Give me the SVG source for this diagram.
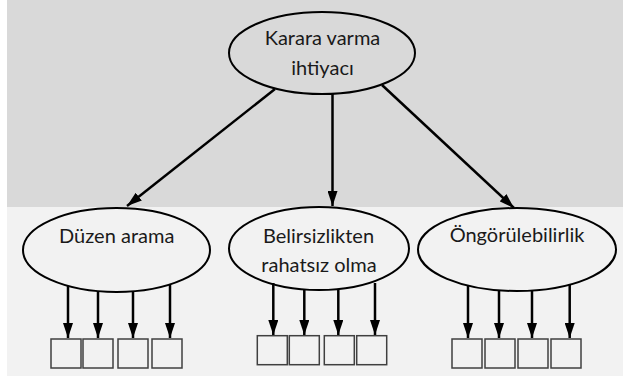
<svg xmlns="http://www.w3.org/2000/svg" width="623" height="376" viewBox="0 0 623 376">
  <style>
    .node { fill: none; stroke: #000; stroke-width: 2; }
    .box { fill: none; stroke: #404040; stroke-width: 1.5; }
    .lbl { font-family: Lato, "Open Sans", "Liberation Sans", sans-serif; font-size: 20px; fill: #1a1a1a; text-anchor: middle; }
    .conn { stroke: #000; stroke-width: 2.5; fill: none; marker-end: url(#ah); }
  </style>
  <defs>
    <marker id="ah" markerUnits="userSpaceOnUse" markerWidth="15" markerHeight="10" refX="15" refY="5" orient="auto">
      <path d="M0,0 L15,5 L0,10 z" fill="#000"/>
    </marker>
  </defs>

  <rect x="0" y="0" width="623" height="376" fill="#ffffff"/>
  <rect x="7" y="0" width="616" height="207" fill="#d9d9d9"/>
  <rect x="7" y="207" width="616" height="169" fill="#f2f2f2"/>

  <g id="connectors">
    <line class="conn" x1="275" y1="89" x2="127" y2="206"/>
    <line class="conn" x1="332.5" y1="94" x2="332.5" y2="206"/>
    <line class="conn" x1="382" y1="85" x2="514" y2="208"/>

    <line class="conn" x1="68" y1="286" x2="68" y2="338"/>
    <line class="conn" x1="98" y1="291" x2="98" y2="338"/>
    <line class="conn" x1="133" y1="291" x2="133" y2="338"/>
    <line class="conn" x1="170" y1="284.5" x2="170" y2="338"/>

    <line class="conn" x1="273.3" y1="283" x2="273.3" y2="335"/>
    <line class="conn" x1="304.3" y1="289" x2="304.3" y2="335"/>
    <line class="conn" x1="338.3" y1="289.5" x2="338.3" y2="335"/>
    <line class="conn" x1="375" y1="283" x2="375" y2="335"/>

    <line class="conn" x1="468" y1="285" x2="468" y2="338"/>
    <line class="conn" x1="499" y1="290.5" x2="499" y2="338"/>
    <line class="conn" x1="532" y1="290.5" x2="532" y2="338"/>
    <line class="conn" x1="569.7" y1="284" x2="569.7" y2="338"/>
  </g>

  <g id="node-karara">
    <ellipse class="node" cx="322" cy="53" rx="93" ry="41"/>
    <text class="lbl" x="322.5" y="45">Karara varma</text>
    <text class="lbl" x="322.5" y="75">ihtiyacı</text>
  </g>

  <g id="node-duzen">
    <ellipse class="node" cx="116.5" cy="250" rx="93.5" ry="42"/>
    <text class="lbl" x="116.7" y="242.7">Düzen arama</text>
  </g>

  <g id="node-belirsizlik">
    <ellipse class="node" cx="319" cy="248.5" rx="90" ry="41.5"/>
    <text class="lbl" x="318.5" y="242.7">Belirsizlikten</text>
    <text class="lbl" x="319" y="271.7">rahatsız olma</text>
  </g>

  <g id="node-ongoru">
    <ellipse class="node" cx="517" cy="249.5" rx="99" ry="41.5"/>
    <text class="lbl" x="517" y="241.7">Öngörülebilirlik</text>
  </g>

  <g id="boxes-duzen">
    <rect class="box" x="51" y="339" width="30" height="29"/>
    <rect class="box" x="83" y="339" width="30" height="29"/>
    <rect class="box" x="118" y="339" width="30" height="29"/>
    <rect class="box" x="152" y="339" width="30" height="29"/>
  </g>

  <g id="boxes-belirsizlik">
    <rect class="box" x="257.3" y="335.7" width="30" height="29"/>
    <rect class="box" x="289.3" y="335.7" width="30" height="29"/>
    <rect class="box" x="324.3" y="335.7" width="30" height="29"/>
    <rect class="box" x="356.7" y="335.7" width="30" height="29"/>
  </g>

  <g id="boxes-ongoru">
    <rect class="box" x="452" y="339" width="30" height="29"/>
    <rect class="box" x="485" y="339" width="30" height="29"/>
    <rect class="box" x="518" y="339" width="30" height="29"/>
    <rect class="box" x="551" y="339" width="30" height="29"/>
  </g>
</svg>
